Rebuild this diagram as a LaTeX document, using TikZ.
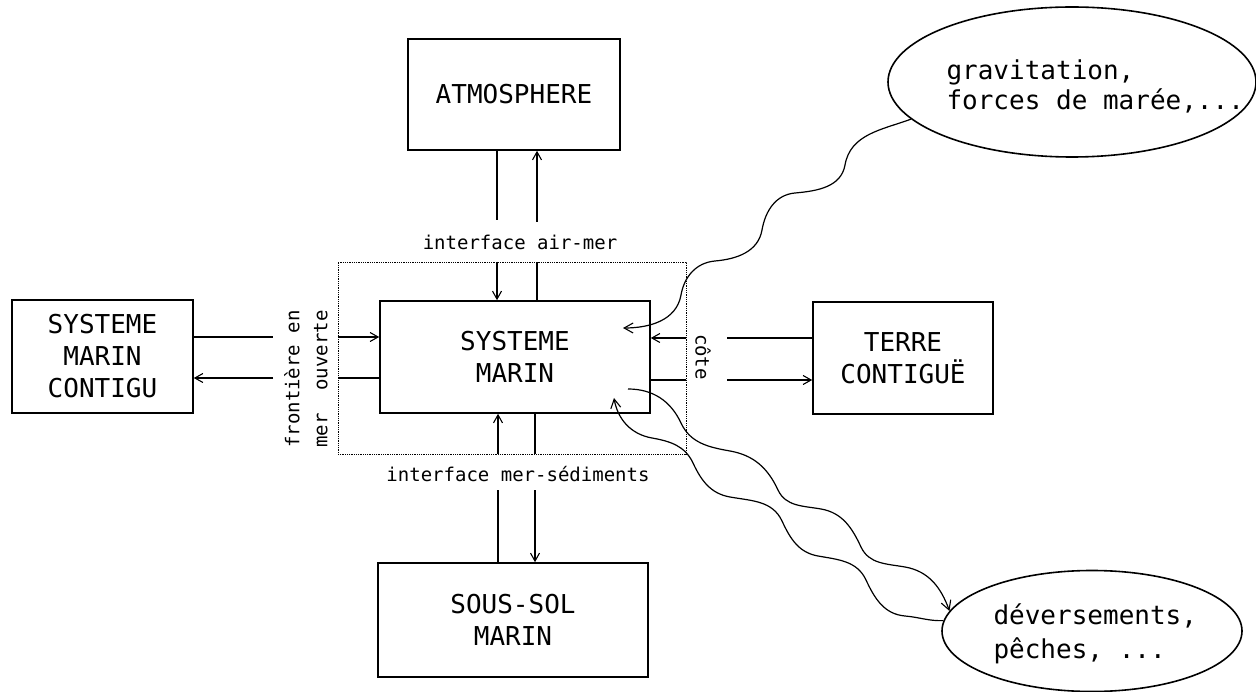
\documentclass[tikz,border=0pt]{standalone}
\usepackage{fontspec}
\setmainfont{DejaVu Sans Mono}
\usetikzlibrary{arrows.meta,shapes.geometric}
\begin{document}
\begin{tikzpicture}[x=1pt,y=1pt,
  bigtxt/.style={font=\fontsize{26}{32}\selectfont},
  smalltxt/.style={font=\fontsize{19}{28}\selectfont},
  boxnode/.style={draw,line width=1.6pt,inner sep=0pt,align=center,bigtxt},
  ln/.style={line width=1.1pt},
  ar/.style={line width=1.1pt,-{Straight Barb[length=8pt,width=9pt,line width=1.1pt]}},
  wave/.style={line width=1.2pt,-{Straight Barb[length=9pt,width=10pt,line width=1.1pt]}},
  bubble/.style={draw,ellipse,line width=1.6pt,inner sep=0pt}]
\useasboundingbox (0,0) rectangle (1256,-692);
\fill[white] (0,0) rectangle (1256,-692);

% boxes
\node[boxnode,minimum width=212,minimum height=111] (atm) at (514,-94.5) {ATMOSPHERE};
\node[boxnode,minimum width=270,minimum height=112] (sm) at (515,-357) {SYSTEME\\MARIN};
\node[boxnode,minimum width=181,minimum height=113] (smc) at (102.5,-356.5) {SYSTEME\\MARIN\\CONTIGU};
\node[boxnode,minimum width=180,minimum height=112] (terre) at (903,-358) {TERRE\\CONTIGUË};
\node[boxnode,minimum width=270,minimum height=114] (sous) at (513,-620) {SOUS-SOL\\MARIN};
\node[draw,densely dotted,line width=0.8pt,inner sep=0pt,minimum width=348,minimum height=192] (fr) at (512,-358) {};

% ellipses
\node[bubble,minimum width=368,minimum height=150] (grav) at (1072,-82) {};
\node[anchor=west,align=left,bigtxt,font=\fontsize{26}{30}\selectfont] (gravtxt) at (943,-86) {gravitation,\\forces de marée,...};
\node[bubble,minimum width=300,minimum height=121] (dev) at (1092,-631) {};
\node[anchor=west,align=left,bigtxt,font=\fontsize{26}{34}\selectfont] (devtxt) at (990,-634) {déversements,\\pêches, ...};

% labels
\node[smalltxt] (lair) at (520,-242) {interface air-mer};
\node[smalltxt] (lsed) at (518,-474) {interface mer-sédiments};
\node[smalltxt,rotate=-90] (lcote) at (703,-357) {côte};
\node[smalltxt,rotate=90,align=left] (lfront) at (306,-379) {frontière en\\mer~~ouverte};

% break points
\coordinate (tA) at (497,-220);
\coordinate (tB) at (537,-222);
\coordinate (bA) at (498,-490);
\coordinate (bB) at (535,-490);
\coordinate (lA) at (273,-337);
\coordinate (lB) at (273,-378);
\coordinate (rA) at (727,-338);
\coordinate (rB) at (727,-380);

% top
\draw[ln] (atm.south -| tA) -- (tA);
\draw[ar] (tB) -- (atm.south -| tB);
\draw[ar] (fr.north -| tA) -- (sm.north -| tA);
\draw[ln] (sm.north -| tB) -- (fr.north -| tB);
% bottom
\draw[ar] (fr.south -| bA) -- (sm.south -| bA);
\draw[ln] (sm.south -| bB) -- (fr.south -| bB);
\draw[ln] (bA) -- (sous.north -| bA);
\draw[ar] (bB) -- (sous.north -| bB);
% left
\draw[ln] (smc.east |- lA) -- (lA);
\draw[ar] (fr.west |- lA) -- (sm.west |- lA);
\draw[ln] (sm.west |- lB) -- (fr.west |- lB);
\draw[ar] (lB) -- (smc.east |- lB);
% right
\draw[ln] (terre.west |- rA) -- (rA);
\draw[ar] (fr.east |- rA) -- (sm.east |- rA);
\draw[ln] (sm.east |- rB) -- (fr.east |- rB);
\draw[ar] (rB) -- (terre.west |- rB);

% wavy connectors
\coordinate (gend) at (623,-328);
\coordinate (wAs) at (628,-389);
\coordinate (wBe) at (614,-398);

\draw[wave] (grav.193) to[out=200,in=80] (845,-165) to[out=260,in=5] (795,-193)
  to[out=185,in=80] (762,-230) to[out=260,in=5] (715,-261)
  to[out=185,in=80] (681,-295) to[out=260,in=0] (gend);

\draw[wave] (wAs) to[out=0,in=115] (681,-423) to[out=295,in=170] (730,-451)
  to[out=350,in=115] (778,-490) to[out=295,in=170] (821,-509)
  to[out=350,in=115] (861,-547) to[out=295,in=170] (905,-567)
  to[out=350,in=110] (dev.172);

\draw[wave] (dev.176) to[out=182,in=355] (905,-616) to[out=175,in=295] (866,-580)
  to[out=115,in=350] (818,-556) to[out=170,in=295] (782,-521)
  to[out=115,in=350] (730,-497) to[out=170,in=295] (693,-463)
  to[out=115,in=350] (652,-438) to[out=170,in=280] (wBe);
\end{tikzpicture}
\end{document}
